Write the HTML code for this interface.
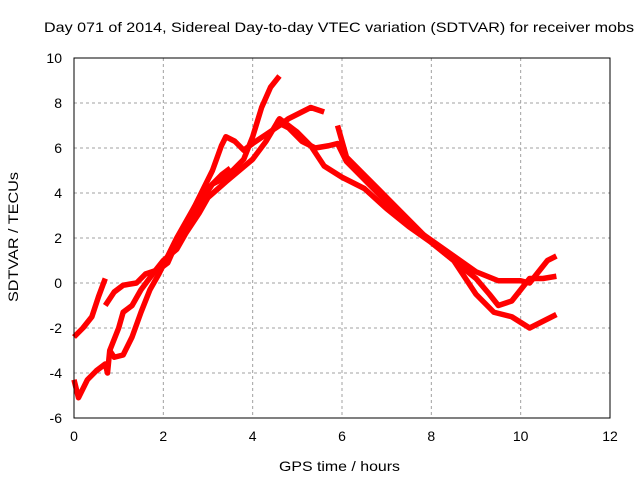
<!DOCTYPE html>
<html><head><meta charset="utf-8"><style>
body{margin:0;background:#fff}
svg text{font-family:"Liberation Sans",sans-serif;font-size:14px;fill:#000}
</style></head><body>
<svg id="c" width="640" height="480">
<text x="44" y="32" textLength="590" lengthAdjust="spacingAndGlyphs">Day 071 of 2014, Sidereal Day-to-day VTEC variation (SDTVAR) for receiver mobs</text>
<text x="279" y="471" textLength="121" lengthAdjust="spacingAndGlyphs">GPS time / hours</text>
<text transform="translate(18,302) rotate(-90)" textLength="130" lengthAdjust="spacingAndGlyphs">SDTVAR / TECUs</text>
<g id="grid"></g><g id="series"></g>
<rect x="74" y="58" width="536" height="360" fill="none" stroke="#000"/>
</svg>
<script>
const xTicks=[0,2,4,6,8,10,12];
const yTicks=[-6,-4,-2,0,2,4,6,8,10];
const s1=[[0,-2.4],[0.2,-2],[0.4,-1.5],[0.55,-0.6],[0.7,0.2]];
const s2=[[0.7,-1],[0.9,-0.4],[1.1,-0.1],[1.4,0],[1.6,0.4],[1.9,0.6],[2.1,0.9],[2.3,1.8],[2.5,2.6],[2.7,3.4],[2.9,4.2],[3.1,5],[3.3,6.1],[3.4,6.5],[3.6,6.3],[3.8,5.9],[4.0,6.2],[4.3,6.6],[4.6,7.0],[4.8,7.3],[5.0,7.5],[5.3,7.8],[5.6,7.6]];
const s3=[[0,-4.3],[0.1,-5.1],[0.3,-4.3],[0.5,-3.9],[0.7,-3.6],[0.75,-4],[0.8,-3],[1.0,-2],[1.1,-1.3],[1.3,-1],[1.5,-0.3],[1.8,0.5],[2,1],[2.3,1.5],[2.5,2.2],[2.8,3.1],[3.0,3.8],[3.4,4.5],[3.7,5.0],[4.0,5.5],[4.3,6.3],[4.6,7.3],[4.8,7.0],[5.0,6.7],[5.3,6.1],[5.6,5.2],[6,4.7],[6.5,4.2],[7,3.3],[7.5,2.5],[8,1.8],[8.5,1.0],[9,-0.5],[9.4,-1.3],[9.8,-1.5],[10.2,-2.0],[10.5,-1.7],[10.8,-1.4]];
const s4=[[0.8,-3],[0.9,-3.3],[1.1,-3.2],[1.3,-2.4],[1.5,-1.3],[1.7,-0.3],[1.9,0.4],[2.1,1.2],[2.3,2],[2.5,2.7],[2.7,3.4],[2.9,4.0],[3.1,4.4],[3.3,4.8],[3.5,5.1]];
const s5=[[2.3,1.6],[2.5,2.4],[2.7,3.2],[2.9,3.8],[3.1,4.4],[3.4,4.7],[3.8,5.5],[4.0,6.5],[4.2,7.8],[4.4,8.7],[4.6,9.2]];
const s6=[[4.5,7.2],[4.8,6.9],[5.1,6.3],[5.4,6.0],[5.7,6.1],[5.9,6.2],[6.1,5.4],[6.5,4.6],[7,3.6],[7.5,2.6],[8,1.9],[8.5,1.2],[9,0.5],[9.5,0.1],[10,0.1],[10.2,0],[10.4,0.5],[10.6,1],[10.8,1.2]];
const s7=[[5.9,7.0],[6.1,5.6],[6.5,4.8],[7,3.8],[7.5,2.8],[8,1.8],[8.5,1.0],[9,0.2],[9.3,-0.5],[9.5,-1],[9.8,-0.8],[10,-0.3],[10.2,0.2],[10.5,0.2],[10.8,0.3]];
const allSeries=[s1,s2,s3,s4,s5,s6,s7];
const X=h=>74+h*(536/12), Y=v=>58+(10-v)*(360/16);
const NS="http://www.w3.org/2000/svg";
const g=document.getElementById('grid'), sg=document.getElementById('series');
function mk(t,a,p){const e=document.createElementNS(NS,t);for(const k in a)e.setAttribute(k,a[k]);p.appendChild(e);return e;}
xTicks.forEach(t=>{
 if(t>0&&t<12){const l=mk('line',{x1:X(t),x2:X(t),y1:58,y2:418,stroke:'#a0a0a0','stroke-dasharray':'3,3'},g);
 
 }
 const tx=mk('text',{x:X(t),y:441,'text-anchor':'middle'},g);tx.textContent=t;
 
 
});
yTicks.forEach(t=>{
 if(t>-6&&t<10){const l=mk('line',{x1:74,x2:610,y1:Y(t),y2:Y(t),stroke:'#a0a0a0','stroke-dasharray':'3,3'},g);
 
 }
 const tx=mk('text',{x:62,y:Y(t)+5,'text-anchor':'end'},g);tx.textContent=t;
 
 
});
allSeries.forEach((s,i)=>{
 const p=mk('polyline',{points:s.map(d=>X(d[0])+','+Y(d[1])).join(' '),fill:'none',stroke:'#ff0000','stroke-width':5.5,'stroke-linejoin':'round','stroke-linecap':'butt'},sg);
 
 
});
</script>
</body></html>
